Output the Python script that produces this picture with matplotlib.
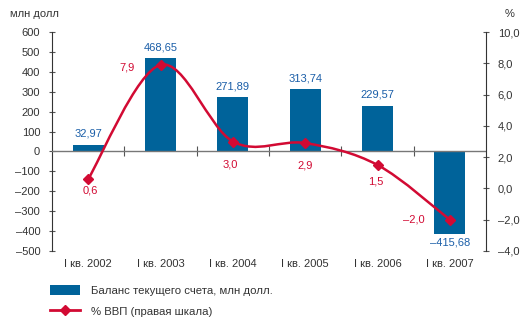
import matplotlib
matplotlib.use("Agg")
import matplotlib.pyplot as plt
import numpy as np
from matplotlib.path import Path
from matplotlib.patches import PathPatch, Patch
from matplotlib.lines import Line2D

plt.rcParams['font.family'] = ['Liberation Sans Narrow', 'Liberation Sans', 'DejaVu Sans']

# data
quarters = ['I кв. 2002', 'I кв. 2003', 'I кв. 2004', 'I кв. 2005', 'I кв. 2006', 'I кв. 2007']
balance = [32.97, 468.65, 271.89, 313.74, 229.57, -415.68]
balance_labels = ['32,97', '468,65', '271,89', '313,74', '229,57', '–415,68']
gdp_pct = [0.6, 7.9, 3.0, 2.9, 1.5, -2.0]
gdp_labels = ['0,6', '7,9', '3,0', '2,9', '1,5', '–2,0']
left_ticks = [600, 500, 400, 300, 200, 100, 0, -100, -200, -300, -400, -500]
right_ticks = [10, 8, 6, 4, 2, 0, -2, -4]

bar_col = '#00639a'
blue_txt = '#1a5ea8'
red = '#d20a33'
grey = '#555555'

fig = plt.figure(figsize=(5.25, 3.24), dpi=100)
ax = fig.add_axes([52/525, 1 - 251/324, 434/525, 219/324])
ax2 = ax.twinx()

x = np.arange(len(quarters))
bars = ax.bar(x, balance, width=0.43, color=bar_col, zorder=2)
ax.axhline(0, color='#777777', lw=1, zorder=3)

ax.set_xlim(-0.5, 5.5)
ax.set_ylim(-500, 600)
ax.set_yticks(left_ticks)
ax.set_yticklabels([str(t).replace('-', '–') for t in left_ticks])
ax2.set_ylim(-4, 10)
ax2.set_yticks(right_ticks)
ax2.set_yticklabels([('%.1f' % t).replace('.', ',').replace('-', '–') for t in right_ticks])

for a in (ax, ax2):
    a.spines['top'].set_visible(False)
    a.spines['bottom'].set_visible(False)
ax.spines['right'].set_visible(False)
ax2.spines['left'].set_visible(False)
ax.spines['left'].set_color('#333333')
ax2.spines['right'].set_color('#333333')
ax.tick_params(axis='y', direction='inout', length=5, colors=grey, labelcolor='#333333',
               labelsize=8, pad=6)
ax2.tick_params(axis='y', direction='inout', length=5, colors=grey, labelcolor='#333333',
                labelsize=8, pad=6)

# category labels at bottom
ax.set_xticks(x)
ax.set_xticklabels(quarters, fontsize=8, color='#333333')
ax.tick_params(axis='x', length=0, pad=6)

# small separators on the zero line
sec = ax.secondary_xaxis(500/1100)
sec.set_xticks(x[:-1] + 0.5)
sec.set_xticklabels([])
sec.tick_params(axis='x', direction='inout', length=7, color=grey)
sec.spines['bottom'].set_visible(False)

# bar value labels
for xi, v, lab in zip(x, balance, balance_labels):
    if v >= 0:
        ax.text(xi, v + 30, lab, ha='center', va='bottom', fontsize=8, color=blue_txt)
    else:
        ax.text(xi, v - 18, lab, ha='center', va='top', fontsize=8, color=blue_txt)

# smooth line through the points (Catmull-Rom as Bezier)
pts = np.column_stack([x, gdp_pct]).astype(float)
ext = np.vstack([pts[0], pts, pts[-1]])
verts = [tuple(pts[0])]
codes = [Path.MOVETO]
for i in range(len(pts) - 1):
    p0, p1, p2, p3 = ext[i], ext[i + 1], ext[i + 2], ext[i + 3]
    c1 = p1 + (p2 - p0) / 6
    c2 = p2 - (p3 - p1) / 6
    verts += [tuple(c1), tuple(c2), tuple(p2)]
    codes += [Path.CURVE4] * 3
ax2.add_patch(PathPatch(Path(verts, codes), fill=False, edgecolor=red, lw=1.8, zorder=4))
ax2.plot(x, gdp_pct, ls='none', marker='D', ms=5, color=red, zorder=5)

offs = [(1.5, -8.6), (-24, -2), (-2, -16.5), (0, -16), (-1, -12), (-26, 0)]
for xi, v, lab, (dx, dy) in zip(x, gdp_pct, gdp_labels, offs):
    ax2.annotate(lab, (xi, v), xytext=(dx, dy), textcoords='offset points',
                 ha='center', va='center', fontsize=8, color=red)

fig.text(10/525, 1 - 14/324, 'млн долл', fontsize=8, color='#333333', va='center')
fig.text(505/525, 1 - 14/324, '%', fontsize=8, color='#333333', va='center')

handles = [Patch(facecolor=bar_col, edgecolor='none'),
           Line2D([], [], color=red, lw=2, marker='D', ms=5)]
fig.legend(handles, ['Баланс текущего счета, млн долл.', '% ВВП (правая шкала)'],
           loc='upper left', bbox_to_anchor=(40/525, 1 - 275/324), frameon=False,
           fontsize=8.2, handlelength=2.6, handleheight=0.9, labelspacing=0.9,
           handletextpad=1.0, labelcolor='#333333')

fig.savefig('out.png', dpi=100)
